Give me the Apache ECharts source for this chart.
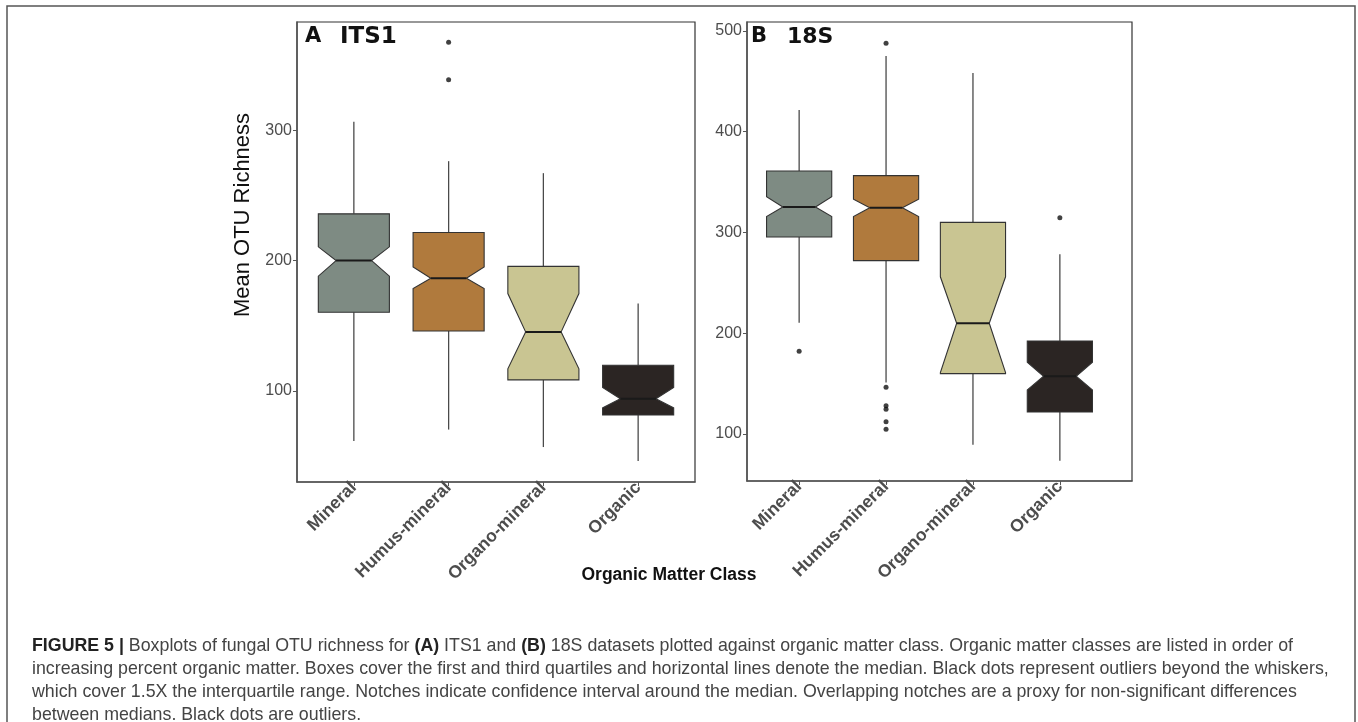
<!DOCTYPE html>
<html>
<head>
<meta charset="utf-8">
<script src="https://cdn.jsdelivr.net/npm/echarts@6/dist/echarts.min.js"></script>
<style>
  html, body { margin: 0; padding: 0; background: #fff; }
  #chart { width: 1358px; height: 722px; }
</style>
</head>
<body>
<div id="chart"></div>
<script>
// categories (x positions 1..4)
var categories = ['Mineral', 'Humus-mineral', 'Organo-mineral', 'Organic'];
var boxColors = ['#7e8b83', '#b07a3d', '#c9c592', '#2b2523'];

// A  ITS1
var itsLow = [61.6, 70.4, 57, 46.3];
var itsQ1 = [160.4, 146, 108.5, 81.6];
var itsNotchLow = [188, 178.6, 117, 87];
var itsMedian = [200, 186.4, 145.3, 94.1];
var itsNotchHigh = [210.5, 195, 174.7, 102.7];
var itsQ3 = [235.8, 221.5, 195.5, 119.7];
var itsHigh = [306.4, 276.2, 267, 167];
var itsOutliers = [[2, 338.6], [2, 367.3]];
var itsTicks = [100, 200, 300];

// B  18S
var ssuLow = [210.5, 151, 89.4, 73.5];
var ssuQ1 = [295.5, 272, 159.9, 121.8];
var ssuNotchLow = [315.7, 315.7, 161, 143.7];
var ssuMedian = [325.3, 324.6, 209.9, 157.3];
var ssuNotchHigh = [335.5, 333, 256, 171.2];
var ssuQ3 = [361, 356.4, 310, 192.3];
var ssuHigh = [421.6, 475.2, 458.3, 278.4];
var ssuOutliers = [[1, 182], [2, 487.8], [2, 146.3], [2, 128], [2, 124.5], [2, 112.2], [2, 104.6], [4, 314.7]];
var ssuTicks = [100, 200, 300, 400, 500];

var catPos = [1, 2, 3, 4];

function boxData(low, q1, nl, med, nh, q3, high) {
    return categories.map(function (c, i) {
        return [i + 1, low[i], q1[i], nl[i], med[i], nh[i], q3[i], high[i], i];
    });
}

function renderBox(params, api) {
    var x = api.value(0);
    var w = 0.375;
    function pt(dx, v) { return api.coord([x + dx, v]); }
    var low = api.value(1), q1 = api.value(2), nl = api.value(3), med = api.value(4),
        nh = api.value(5), q3 = api.value(6), high = api.value(7);
    var fill = boxColors[api.value(8)];
    var whisk = { stroke: '#4a4a4a', lineWidth: 1.3 };
    return {
        type: 'group',
        children: [
            { type: 'line', shape: { x1: pt(0, q3)[0], y1: pt(0, q3)[1], x2: pt(0, high)[0], y2: pt(0, high)[1] }, style: whisk },
            { type: 'line', shape: { x1: pt(0, low)[0], y1: pt(0, low)[1], x2: pt(0, q1)[0], y2: pt(0, q1)[1] }, style: whisk },
            {
                type: 'polygon',
                shape: {
                    points: [
                        pt(-w, q1), pt(-w, nl), pt(-w / 2, med), pt(-w, nh), pt(-w, q3),
                        pt(w, q3), pt(w, nh), pt(w / 2, med), pt(w, nl), pt(w, q1)
                    ]
                },
                style: { fill: fill, stroke: '#333', lineWidth: 1.1 }
            },
            { type: 'line', shape: { x1: pt(-w / 2, med)[0], y1: pt(-w / 2, med)[1], x2: pt(w / 2, med)[0], y2: pt(w / 2, med)[1] }, style: { stroke: '#1a1a1a', lineWidth: 2 } }
        ]
    };
}

function xAxisFor(idx, max) {
    return {
        type: 'value', gridIndex: idx, min: 0.4, max: max,
        axisLine: { show: true, lineStyle: { color: '#555', width: 1.5 } },
        axisTick: { show: true, customValues: catPos, length: 4, lineStyle: { color: '#555' } },
        splitLine: { show: false },
        axisLabel: {
            customValues: catPos, rotate: 45, margin: 3,
            fontFamily: 'Liberation Sans', fontWeight: 'bold', fontSize: 17.5, color: '#4d4d4d',
            formatter: function (v) { return categories[Math.round(v) - 1]; }
        }
    };
}

function yAxisFor(idx, min, max, ticks) {
    return {
        type: 'value', gridIndex: idx, min: min, max: max,
        axisLine: { show: true, lineStyle: { color: '#555', width: 1.5 } },
        axisTick: { show: true, customValues: ticks, length: 4, lineStyle: { color: '#555' } },
        splitLine: { show: false },
        axisLabel: {
            customValues: ticks, margin: 5,
            fontFamily: 'Liberation Sans', fontSize: 16, color: '#4d4d4d'
        }
    };
}

var chart = echarts.init(document.getElementById('chart'));

var captionStyle = {
    fontFamily: 'Liberation Sans', fontSize: 17.8, fill: '#444',
    rich: {
        b: { fontFamily: 'Liberation Sans', fontSize: 17.8, fontWeight: 'bold', fill: '#222' }
    }
};
var captionLines = [
    '{b|FIGURE 5 |} Boxplots of fungal OTU richness for {b|(A)} ITS1 and {b|(B)} 18S datasets plotted against organic matter class. Organic matter classes are listed in order of',
    'increasing percent organic matter. Boxes cover the first and third quartiles and horizontal lines denote the median. Black dots represent outliers beyond the whiskers,',
    'which cover 1.5X the interquartile range. Notches indicate confidence interval around the median. Overlapping notches are a proxy for non-significant differences',
    'between medians. Black dots are outliers.'
];

var graphics = [
    { type: 'rect', shape: { x: 7, y: 6, width: 1348, height: 740 }, style: { fill: 'none', stroke: '#555', lineWidth: 1.5 }, silent: true },
    { type: 'text', x: 243, y: 215, rotation: Math.PI / 2, style: { text: 'Mean OTU Richness', fontFamily: 'Liberation Sans', fontSize: 22, fill: '#111', align: 'center', verticalAlign: 'middle' } },
    { type: 'text', x: 669, y: 575, style: { text: 'Organic Matter Class', fontFamily: 'Liberation Sans', fontWeight: 'bold', fontSize: 17.5, fill: '#111', align: 'center', verticalAlign: 'middle' } },
    { type: 'text', x: 305, y: 37, style: { text: 'A', fontFamily: 'DejaVu Sans', fontWeight: 'bold', fontSize: 21, fill: '#111', verticalAlign: 'middle' } },
    { type: 'text', x: 340, y: 37, style: { text: 'ITS1', fontFamily: 'DejaVu Sans', fontWeight: 'bold', fontSize: 23, fill: '#111', verticalAlign: 'middle' } },
    { type: 'text', x: 751, y: 37, style: { text: 'B', fontFamily: 'DejaVu Sans', fontWeight: 'bold', fontSize: 21, fill: '#111', verticalAlign: 'middle' } },
    { type: 'text', x: 787, y: 37, style: { text: '18S', fontFamily: 'DejaVu Sans', fontWeight: 'bold', fontSize: 22, fill: '#111', verticalAlign: 'middle' } }
];
captionLines.forEach(function (t, i) {
    graphics.push({
        type: 'text', x: 32, y: 646 + i * 23,
        style: Object.assign({}, captionStyle, { text: t, verticalAlign: 'middle' })
    });
});

var option = {
    animation: false,
    backgroundColor: '#fff',
    grid: [
        { left: 297, top: 22, width: 398, height: 460, show: true, borderColor: '#333', borderWidth: 1.2, backgroundColor: 'transparent' },
        { left: 747, top: 22, width: 385, height: 459, show: true, borderColor: '#333', borderWidth: 1.2, backgroundColor: 'transparent' }
    ],
    xAxis: [xAxisFor(0, 4.6), xAxisFor(1, 4.83)],
    yAxis: [yAxisFor(0, 30.2, 382.9, itsTicks), yAxisFor(1, 53.3, 508.9, ssuTicks)],
    graphic: graphics,
    series: [
        {
            type: 'custom', xAxisIndex: 0, yAxisIndex: 0,
            renderItem: renderBox,
            encode: { x: 0, y: [1, 7] },
            data: boxData(itsLow, itsQ1, itsNotchLow, itsMedian, itsNotchHigh, itsQ3, itsHigh)
        },
        {
            type: 'scatter', xAxisIndex: 0, yAxisIndex: 0,
            symbolSize: 5, itemStyle: { color: '#111' },
            data: itsOutliers
        },
        {
            type: 'custom', xAxisIndex: 1, yAxisIndex: 1,
            renderItem: renderBox,
            encode: { x: 0, y: [1, 7] },
            data: boxData(ssuLow, ssuQ1, ssuNotchLow, ssuMedian, ssuNotchHigh, ssuQ3, ssuHigh)
        },
        {
            type: 'scatter', xAxisIndex: 1, yAxisIndex: 1,
            symbolSize: 5, itemStyle: { color: '#111' },
            data: ssuOutliers
        }
    ]
};

chart.setOption(option);
</script>
</body>
</html>
